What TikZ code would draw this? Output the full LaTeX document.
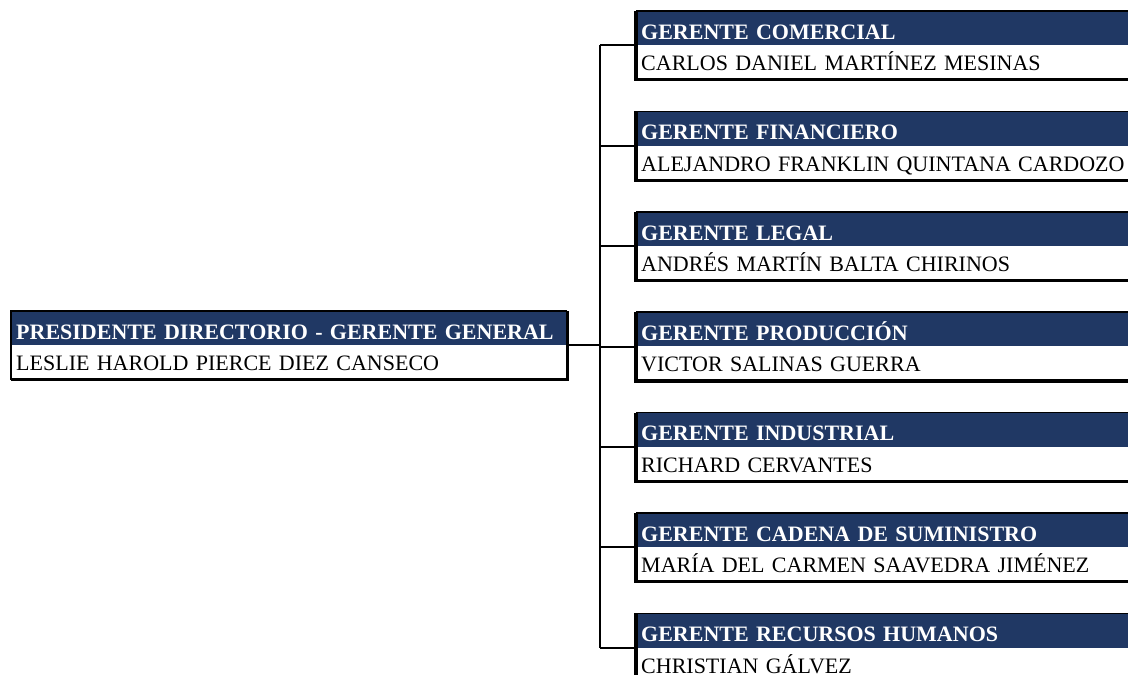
\documentclass[tikz,border=0pt]{standalone}
\usepackage{fontspec}
\setmainfont{Liberation Serif}
\definecolor{navy}{RGB}{32,56,100}
\begin{document}
\begin{tikzpicture}[x=1pt,y=-1pt,
  hdr/.style={rectangle, fill=navy, text=white, anchor=north west,
    font=\bfseries\fontsize{22}{24}\selectfont, inner xsep=5pt, inner ysep=0pt,
    minimum height=34pt, text height=28pt, text depth=6pt, align=left},
  nme/.style={rectangle, fill=white, text=black, anchor=north west,
    font=\fontsize{22}{24}\selectfont, inner xsep=5pt, inner ysep=0pt,
    minimum height=34pt, text height=25pt, text depth=9pt, align=left},
  thinedge/.style={draw=black, line width=1.6pt},
  thickedge/.style={draw=black, line width=3.2pt},
  conn/.style={draw=black, line width=2pt}]
\useasboundingbox (0,0) rectangle (1128,675);
\clip (0,0) rectangle (1128,675);
\fill[white] (0,0) rectangle (1128,675);

% head of the company
\node[hdr, text width=546pt] (p) at (11,311) {PRESIDENTE DIRECTORIO - GERENTE GENERAL};
\node[nme, text width=546pt] (pn) at (p.south west) {LESLIE HAROLD PIERCE DIEZ CANSECO};
\draw[thinedge] (pn.south west) -- (p.north west) -- (p.north east);
\draw[thickedge] (p.north east) -- (pn.south east) -- (pn.south west);

% managers
\foreach \i/\title/\who in {
  1/GERENTE COMERCIAL/CARLOS DANIEL MARTÍNEZ MESINAS,
  2/GERENTE FINANCIERO/ALEJANDRO FRANKLIN QUINTANA CARDOZO,
  3/GERENTE LEGAL/ANDRÉS MARTÍN BALTA CHIRINOS,
  4/GERENTE PRODUCCIÓN/VICTOR SALINAS GUERRA,
  5/GERENTE INDUSTRIAL/RICHARD CERVANTES,
  6/GERENTE CADENA DE SUMINISTRO/MARÍA DEL CARMEN SAAVEDRA JIMÉNEZ,
  7/GERENTE RECURSOS HUMANOS/CHRISTIAN GÁLVEZ}{
  \node[hdr, text width=520pt] (h\i) at (636,{11+100.4*(\i-1)}) {\title};
  \node[nme, text width=520pt] (n\i) at (h\i.south west) {\who};
  \draw[thinedge] (h\i.north west) -- (h\i.north east);
  \draw[thickedge] (h\i.north west) -- (n\i.south west) -- (n\i.south east);
}

% organisation lines
\coordinate (trunk) at (600,0);
\draw[conn] (h1.south west -| trunk) -- (h7.south west -| trunk);
\draw[conn] (p.south east) -- (p.south east -| trunk);
\foreach \i in {1,...,7}{
  \draw[conn] (h\i.south west -| trunk) -- (h\i.south west);
}
\end{tikzpicture}
\end{document}
